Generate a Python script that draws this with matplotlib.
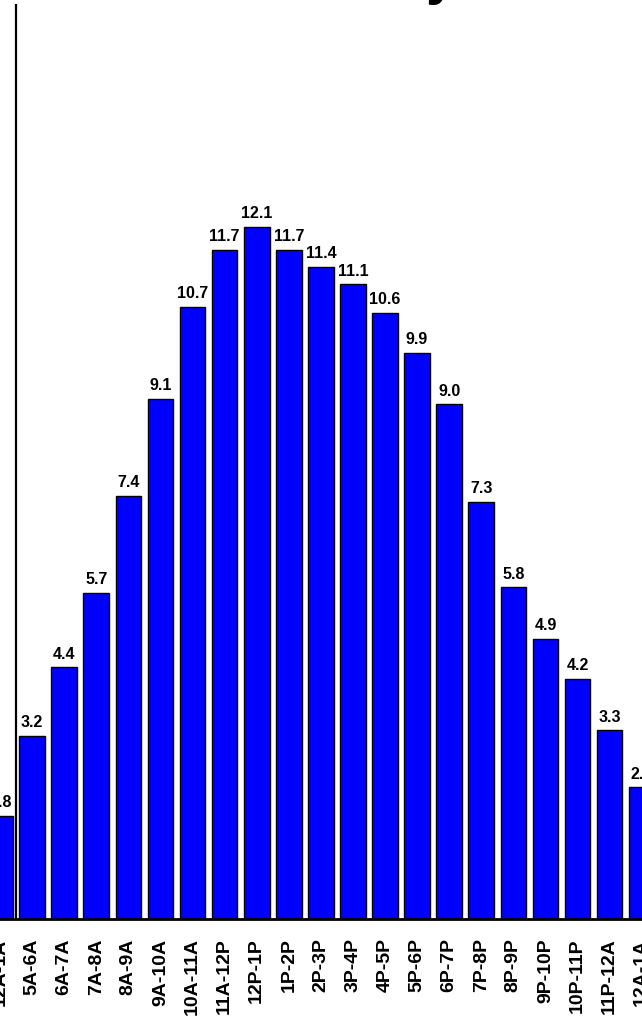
import matplotlib

matplotlib.use("Agg")
import matplotlib.pyplot as plt

# hourly share (%) -- the crop shows the end of one group and a full next group
hours = [
    "12A-1A", "5A-6A", "6A-7A", "7A-8A", "8A-9A", "9A-10A", "10A-11A", "11A-12P",
    "12P-1P", "1P-2P", "2P-3P", "3P-4P", "4P-5P", "5P-6P", "6P-7P", "7P-8P",
    "8P-9P", "9P-10P", "10P-11P", "11P-12A", "12A-1A",
]
share = [
    1.8, 3.2, 4.4, 5.7, 7.4, 9.1, 10.7, 11.7,
    12.1, 11.7, 11.4, 11.1, 10.6, 9.9, 9.0, 7.3,
    5.8, 4.9, 4.2, 3.3, 2.3,
]
group_breaks = [0.5]

plt.rcParams["font.family"] = ["Liberation Sans", "DejaVu Sans"]

fig = plt.figure(figsize=(6.42, 10.29), dpi=100)
ax = fig.add_axes([0.0, 110 / 1029, 1.0, 915 / 1029])

xs = list(range(len(hours)))
bars = ax.bar(xs, share, width=0.8, color="#0000ff", edgecolor="black", linewidth=1.0)
for b, v in zip(bars, share):
    ax.text(b.get_x() + b.get_width() / 2, v + 0.1, f"{v:.1f}",
            ha="center", va="bottom", fontsize=11.5, fontweight="bold")

for gx in group_breaks:
    ax.axvline(gx, color="black", lw=1.6)

ax.set_xlim(0.133, 0.133 + 642 / 32.3)
ax.set_ylim(0, 16)
ax.set_xticks(xs)
ax.set_xticklabels(hours, rotation=90, fontsize=14, fontweight="bold")
ax.tick_params(axis="x", length=0, pad=14)
ax.set_yticks([])
for side in ["left", "right", "top"]:
    ax.spines[side].set_visible(False)
ax.spines["bottom"].set_linewidth(2)

# tail of the (cropped) title above the chart
fig.text(426 / 642, 1 + 7 / 1029, "y", fontsize=40, fontweight="bold",
         ha="left", va="baseline")

fig.savefig("out.png", dpi=100)
